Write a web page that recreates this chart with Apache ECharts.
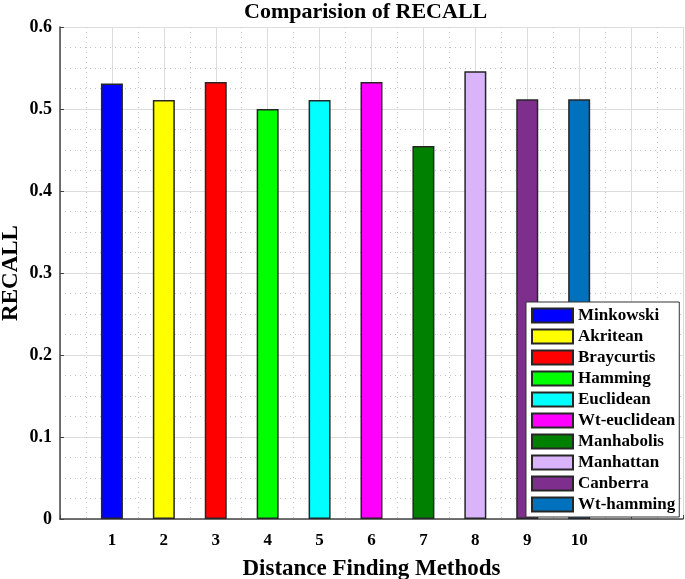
<!DOCTYPE html>
<html>
<head>
<meta charset="utf-8">
<script src="https://cdn.jsdelivr.net/npm/echarts@6/dist/echarts.min.js"></script>
<style>
html,body{margin:0;padding:0;background:#fff;}
#chart{width:685px;height:579px;}
</style>
</head>
<body>
<div id="chart"></div>
<script>
var methods = ['Minkowski','Akritean','Braycurtis','Hamming','Euclidean','Wt-euclidean','Manhabolis','Manhattan','Canberra','Wt-hamming'];
var positions = [1,2,3,4,5,6,7,8,9,10];
var recall = [0.531,0.511,0.533,0.500,0.511,0.533,0.455,0.546,0.512,0.512];
var colors = ['#0000ff','#ffff00','#ff0000','#00ff00','#00ffff','#ff00ff','#008000','#dab4fb','#7e2f8e','#0072bd'];
var xTickLabels = ['1','2','3','4','5','6','7','8','9','10'];

var FONT = '"Liberation Serif", "Times New Roman", serif';

var series = methods.map(function(name, i){
  return {
    name: name,
    type: 'bar',
    barWidth: 22,
    barGap: '-100%',
    data: [[positions[i], recall[i]]],
    itemStyle: {color: colors[i], borderColor: '#262626', borderWidth: 1.5}
  };
});

var chart = echarts.init(document.getElementById('chart'));
chart.setOption({
  backgroundColor: '#fff',
  animation: false,
  title: {
    text: 'Comparision of RECALL',
    left: 244, top: 0, padding: [1,0,0,0],
    textStyle: {fontFamily: FONT, fontWeight: 'bold', fontSize: 22, color: '#000'}
  },
  legend: {
    orient: 'vertical',
    left: 526, top: 302,
    padding: [5,4,4,5],
    itemWidth: 41, itemHeight: 14, itemGap: 4,
    backgroundColor: '#fff',
    borderColor: '#333', borderWidth: 1,
    icon: 'rect',
    data: methods,
    textStyle: {fontFamily: FONT, fontWeight: 'bold', fontSize: 17, color: '#000', lineHeight: 17}
  },
  grid: {left: 60, right: 2, top: 27, bottom: 60, containLabel: false, outerBoundsMode: 'none'},
  xAxis: {
    type: 'value', min: 0, max: 12, interval: 1,
    name: 'Distance Finding Methods', nameLocation: 'middle', nameGap: 39, nameMoveOverlap: false,
    nameTextStyle: {fontFamily: FONT, fontWeight: 'bold', fontSize: 23, color: '#000'},
    axisLine: {show: true, lineStyle: {color: '#444', width: 1.5}},
    axisTick: {show: true, inside: true, length: 4, lineStyle: {color: '#444'}},
    axisLabel: {
      margin: 13, fontFamily: FONT, fontWeight: 'bold', fontSize: 17, color: '#000',
      formatter: function(v){ var i = positions.indexOf(v); return i >= 0 ? xTickLabels[i] : ''; }
    },
    splitLine: {show: true, lineStyle: {color: '#dcdcdc', width: 1}},
    minorTick: {show: false, splitNumber: 2},
    minorSplitLine: {show: true, lineStyle: {color: '#c4c4c4', width: 1, type: [1,4]}}
  },
  yAxis: {
    type: 'value', min: 0, max: 0.6, interval: 0.1,
    name: 'RECALL', nameLocation: 'middle', nameGap: 37, nameRotate: 90, nameMoveOverlap: false,
    nameTextStyle: {fontFamily: FONT, fontWeight: 'bold', fontSize: 23, color: '#000'},
    axisLine: {show: true, lineStyle: {color: '#444', width: 1.5}},
    axisTick: {show: true, inside: true, length: 4, lineStyle: {color: '#444'}},
    axisLabel: {margin: 8, fontFamily: FONT, fontWeight: 'bold', fontSize: 18, color: '#000'},
    splitLine: {show: true, lineStyle: {color: '#dcdcdc', width: 1}},
    minorTick: {show: false, splitNumber: 4},
    minorSplitLine: {show: true, lineStyle: {color: '#c4c4c4', width: 1, type: [1,4]}}
  },
  series: series
});
</script>
</body>
</html>
